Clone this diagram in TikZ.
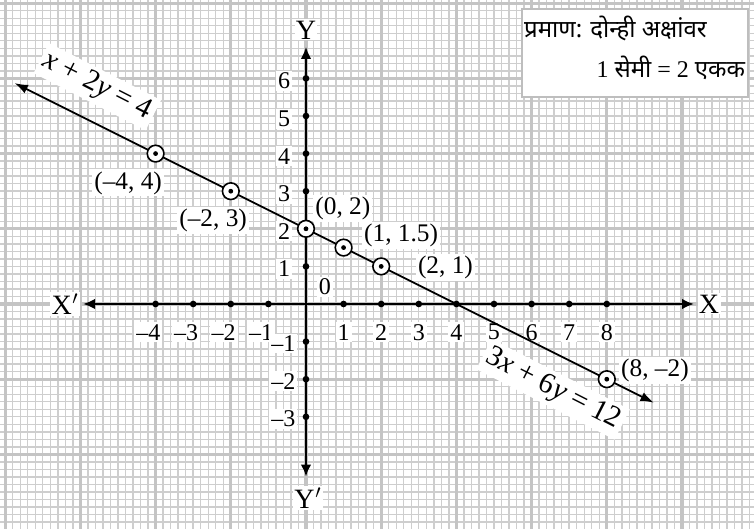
\documentclass[tikz,border=0pt]{standalone}
\usepackage{fontspec}
\setmainfont{Liberation Serif}
\newfontfamily\devfont[Script=Devanagari]{Noto Sans}
\usetikzlibrary{arrows.meta}
\definecolor{minorc}{RGB}{206,206,206}
\definecolor{majorc}{RGB}{196,196,196}
\definecolor{boxc}{RGB}{190,190,190}
\tikzset{
  minorgrid/.style={draw=minorc, line width=1.05pt},
  majorgrid/.style={draw=majorc, line width=2.4pt},
  axisline/.style={line width=2pt, {Latex[length=9pt,width=8pt]}-{Latex[length=9pt,width=8pt]}},
  graphline/.style={line width=1.3pt, {Latex[length=10pt,width=7pt]}-{Latex[length=10pt,width=7pt]}},
  ptlab/.style={fill=white, inner sep=1.5pt, font=\fontsize{19}{22}\selectfont},
  ticklab/.style={fill=white, inner sep=1.5pt, font=\fontsize{18}{21}\selectfont},
  axlab/.style={fill=white, inner sep=1pt, font=\fontsize{21}{24}\selectfont},
  eqlab/.style={fill=white, inner sep=3pt, rotate=-27, font=\fontsize{22}{25}\selectfont},
  ptmark/.style={circle, draw, line width=1.2pt, fill=white, minimum size=12.5pt, inner sep=0pt},
  tickdot/.style={circle, fill, minimum size=5pt, inner sep=0pt},
  legendbox/.style={draw=boxc, fill=white, line width=1.2pt},
  devtxt/.style={inner sep=1pt, font=\fontsize{18}{21}\selectfont},
}
\begin{document}
\begin{tikzpicture}[x=28.2pt,y=28.2pt]
\useasboundingbox (-8.138,-5.984) rectangle (11.915,8.085);
\fill[white] (-8.138,-5.984) rectangle (11.915,8.085);
% graph paper
\draw[minorgrid, step=0.2] (-8.138,-5.984) grid (11.915,8.085);
\draw[majorgrid, step=2] (-8.138,-5.984) grid (11.915,8.085);
% legend
\draw[legendbox] (5.745,5.505) rectangle (11.755,7.846);
\node[devtxt, anchor=west] (leg1) at (5.76,7.34) {\devfont प्रमाण: दोन्ही अक्षांवर};
\node[devtxt, anchor=east] (leg2) at (11.72,6.28) {1 {\devfont सेमी} = 2 {\devfont एकक}};
% equation labels
\node[eqlab] (eq1) at (-5.55,5.78) {{\itshape x} + 2{\itshape y} = 4};
\node[eqlab] (eq2) at (6.57,-2.27) {3{\itshape x} + 6{\itshape y} = 12};
% tick labels
\foreach \i in {1,...,8} \node[ticklab] (tx\i) at (\i,-0.75) {\i};
\foreach \i in {1,...,4} \node[ticklab] (txm\i) at (-\i-0.19,-0.75) {–\i};
\foreach \i in {1,...,6} \node[ticklab, anchor=east] (ty\i) at (-0.36,\i-0.07) {\i};
\foreach \i in {1,...,3} \node[ticklab, anchor=east] (tym\i) at (-0.22,-\i-0.05) {–\i};
\node[ticklab] (zero) at (0.5,0.45) {0};
% axis labels
\node[axlab] (Xm) at (-6.41,0) {X\kern0.5pt$'$};
\node[axlab] (Xp) at (10.72,0) {X};
\node[axlab] (Yp) at (0,7.29) {Y};
\node[axlab] (Ym) at (0.05,-5.16) {Y\kern0.5pt$'$};
% point labels
\node[ptlab] (l1) at (-4.73,3.22) {(–4, 4)};
\node[ptlab] (l2) at (-2.47,2.23) {(–2, 3)};
\node[ptlab] (l3) at (0.98,2.55) {(0, 2)};
\node[ptlab] (l4) at (2.53,1.83) {(1, 1.5)};
\node[ptlab] (l5) at (3.71,0.98) {(2, 1)};
\node[ptlab] (l6) at (9.28,-1.76) {(8, –2)};
% axes
\coordinate (xa) at (-5.93,0);
\coordinate (xb) at (10.32,0);
\coordinate (ya) at (0,-4.59);
\coordinate (yb) at (0,6.84);
\draw[axisline] (xa) -- (xb);
\draw[axisline] (ya) -- (yb);
\foreach \i in {-4,-3,-2,-1,1,2,3,4,5,6,7,8} \node[tickdot] (dx\i) at (\i,0) {};
\foreach \i in {-3,-2,-1,1,2,3,4,5,6} \node[tickdot] (dy\i) at (0,\i) {};
% graph line
\coordinate (ga) at (-7.75,5.875);
\coordinate (gb) at (9.25,-2.625);
\draw[graphline] (ga) -- (gb);
% points
\foreach \n/\x/\y in {p1/-4/4, p2/-2/3, p3/0/2, p4/1/1.5, p5/2/1, p6/8/-2} {
  \node[ptmark] (\n) at (\x,\y) {};
  \fill (\n.center) circle (1.8pt);
}
\end{tikzpicture}
\end{document}
